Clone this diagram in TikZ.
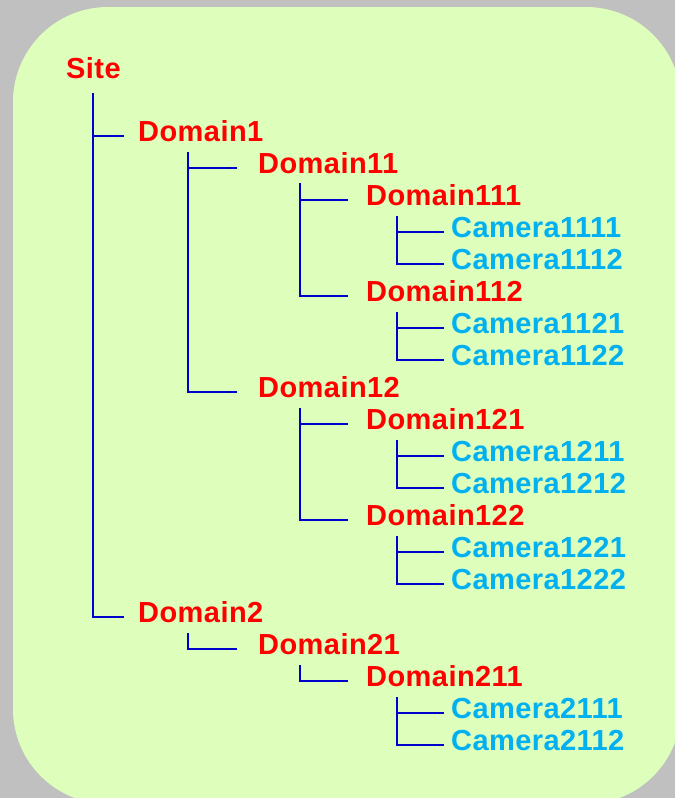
\documentclass[tikz,border=0pt]{standalone}
\usepackage{fontspec}
\setmainfont{Liberation Sans}
\newfontfamily\treefont[LetterSpace=1.5]{Liberation Sans}
\usepackage{tikz}
\usetikzlibrary{positioning}
\definecolor{framegray}{RGB}{192,192,192}
\definecolor{panelgreen}{RGB}{221,255,187}
\definecolor{domred}{RGB}{255,0,0}
\definecolor{camcyan}{RGB}{0,176,240}
\definecolor{linkblue}{RGB}{0,0,204}

\begin{document}
\begin{tikzpicture}[
    x=1pt, y=-1pt,
    dom/.style={anchor=base west, inner sep=0pt, font=\treefont\fontsize{29}{32}\selectfont\bfseries, text=domred},
    cam/.style={dom, text=camcyan},
    link/.style={draw=linkblue, line width=2.5pt},
    lvlA/.style={xshift=-14pt, yshift=5pt},
    lvlB/.style={xshift=-21pt, yshift=5pt},
    lvlC/.style={xshift=-18pt, yshift=5pt},
    lvlD/.style={xshift=-7pt, yshift=5pt}
]
% background
\useasboundingbox (0,0) rectangle (675,798);
\clip (0,0) rectangle (675,798);
\fill[framegray] (0,0) rectangle (675,798);
\fill[panelgreen, rounded corners=95pt] (13,7) rectangle (681,804);
% tree labels
\node[dom] (site) at (66,78) {Site};
\node[dom] (d1) at (138,141) {Domain1};
\node[dom] (d11) at (258,173) {Domain11};
\node[dom] (d111) at (366,205) {Domain111};
\node[cam] (c1111) at (451,237) {Camera1111};
\node[cam] (c1112) at (451,269) {Camera1112};
\node[dom] (d112) at (366,301) {Domain112};
\node[cam] (c1121) at (451,333) {Camera1121};
\node[cam] (c1122) at (451,365) {Camera1122};
\node[dom] (d12) at (258,397) {Domain12};
\node[dom] (d121) at (366,429) {Domain121};
\node[cam] (c1211) at (451,461) {Camera1211};
\node[cam] (c1212) at (451,493) {Camera1212};
\node[dom] (d122) at (366,525) {Domain122};
\node[cam] (c1221) at (451,557) {Camera1221};
\node[cam] (c1222) at (451,589) {Camera1222};
\node[dom] (d2) at (138,622) {Domain2};
\node[dom] (d21) at (258,654) {Domain21};
\node[dom] (d211) at (366,686) {Domain211};
\node[cam] (c2111) at (451,718) {Camera2111};
\node[cam] (c2112) at (451,750) {Camera2112};
% trunk tops
\coordinate (site-t) at (93,93);
\coordinate (d1-t) at (188,152);
\coordinate (d11-t) at (300,183);
\coordinate (d111-t) at (397,216);
\coordinate (d112-t) at (397,312);
\coordinate (d12-t) at (300,408);
\coordinate (d121-t) at (397,440);
\coordinate (d122-t) at (397,536);
\coordinate (d2-t) at (188,633);
\coordinate (d21-t) at (300,665);
\coordinate (d211-t) at (397,697);
% connectors
\draw[link] (site-t) |- ([lvlA]d1.base west);
\draw[link] (site-t) |- ([lvlA]d2.base west);
\draw[link] (d1-t) |- ([lvlB]d11.base west);
\draw[link] (d1-t) |- ([lvlB]d12.base west);
\draw[link] (d11-t) |- ([lvlC]d111.base west);
\draw[link] (d11-t) |- ([lvlC]d112.base west);
\draw[link] (d111-t) |- ([lvlD]c1111.base west);
\draw[link] (d111-t) |- ([lvlD]c1112.base west);
\draw[link] (d112-t) |- ([lvlD]c1121.base west);
\draw[link] (d112-t) |- ([lvlD]c1122.base west);
\draw[link] (d12-t) |- ([lvlC]d121.base west);
\draw[link] (d12-t) |- ([lvlC]d122.base west);
\draw[link] (d121-t) |- ([lvlD]c1211.base west);
\draw[link] (d121-t) |- ([lvlD]c1212.base west);
\draw[link] (d122-t) |- ([lvlD]c1221.base west);
\draw[link] (d122-t) |- ([lvlD]c1222.base west);
\draw[link] (d2-t) |- ([lvlB]d21.base west);
\draw[link] (d21-t) |- ([lvlC]d211.base west);
\draw[link] (d211-t) |- ([lvlD]c2111.base west);
\draw[link] (d211-t) |- ([lvlD]c2112.base west);
\end{tikzpicture}
\end{document}
